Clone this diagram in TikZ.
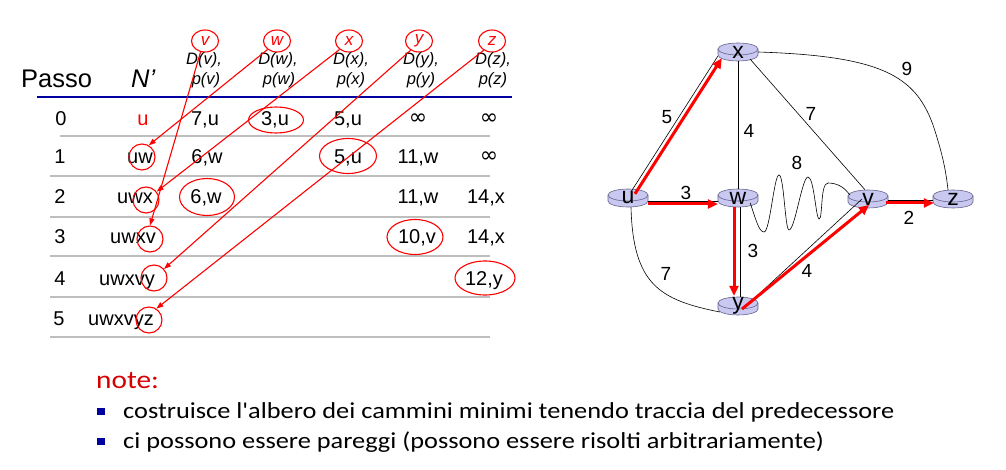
\documentclass[tikz,border=0pt]{standalone}
\usepackage{fontspec}
\setmainfont{Liberation Sans}
\newfontfamily\notefont[FakeStretch=1.15]{Carlito}
\newfontfamily\symfont{DejaVu Sans}
\newcommand\infsym{{\symfont\fontsize{22}{24}\selectfont ∞}}
\usetikzlibrary{arrows.meta,calc,shapes.geometric}
\definecolor{rfill}{RGB}{200,200,240}
\definecolor{rdraw}{RGB}{100,100,140}
\definecolor{navyline}{RGB}{0,0,160}
\definecolor{rulegray}{RGB}{190,190,190}
\definecolor{notered}{RGB}{215,0,0}
\newcommand\router[4]{%
  \fill[rfill] (#2-20,#3-3) -- (#2-20,#3+3) arc[start angle=180,end angle=360,x radius=20pt,y radius=6pt] -- (#2+20,#3-3) -- cycle;
  \draw[rdraw,line width=0.6pt] (#2-20,#3-3) -- (#2-20,#3+3) arc[start angle=180,end angle=360,x radius=20pt,y radius=6pt] -- (#2+20,#3-3);
  \filldraw[fill=rfill,draw=rdraw,line width=0.6pt] (#2,#3-3) ellipse[x radius=20pt,y radius=6pt];
  \node[rlabel] (#1) at (#2,#3) {\raisebox{-5pt}{#4}};
}
\tikzset{
  rlabel/.style={minimum width=40pt,minimum height=18pt,inner sep=0pt,font=\fontsize{23}{23}\selectfont},
  edge/.style={draw=black,line width=0.6pt},
  redge/.style={draw=red,line width=3pt,-{Triangle[length=10pt,width=9pt]}},
  wlabel/.style={font=\fontsize{19}{19}\selectfont,inner sep=0pt},
  cell/.style={font=\fontsize{20}{24}\selectfont,anchor=base,inner sep=0pt},
  hdr/.style={font=\fontsize{16.5}{18}\selectfont\itshape,anchor=base,inner sep=0pt},
  hcirc/.style={ellipse,draw=red,line width=1.1pt,minimum width=27pt,minimum height=22pt,inner sep=0pt,text=red,font=\fontsize{17}{18}\selectfont\itshape},
  ncirc/.style={circle,draw=red,line width=1.1pt,minimum size=26pt,inner sep=0pt},
  vell/.style={ellipse,draw=red,line width=1.1pt,inner sep=0pt},
  tarrow/.style={draw=red,line width=1.1pt,-{Triangle[length=7pt,width=5pt]}},
  trule/.style={draw=rulegray,line width=1.2pt},
}
\begin{document}
\begin{tikzpicture}[x=1pt,y=-1pt]
\useasboundingbox (0,0) rectangle (1006,470);
% ---------------- table ----------------
\node[cell,anchor=base west,font=\fontsize{25.5}{28}\selectfont] (passo) at (21,88) {Passo};
\node[cell,anchor=base west,font=\fontsize{25.5}{28}\selectfont\itshape] (nprime) at (131,88) {N'};
% header circles
\node[hcirc] (hv) at (205,41) {v};
\node[hcirc] (hw) at (277,41) {w};
\node[hcirc] (hx) at (349,41) {x};
\node[hcirc] (hy) at (419,41) {y};
\node[hcirc] (hz) at (492,41) {z};
% header texts
\node[hdr] (dv) at (204,65) {D(v),};
\node[hdr] (pv) at (206,85) {p(v)};
\node[hdr] (dw) at (278,65) {D(w),};
\node[hdr] (pw) at (279,85) {p(w)};
\node[hdr] (dx) at (351,65) {D(x),};
\node[hdr] (px) at (351,85) {p(x)};
\node[hdr] (dy) at (421,65) {D(y),};
\node[hdr] (py) at (421,85) {p(y)};
\node[hdr] (dz) at (493,65) {D(z),};
\node[hdr] (pz) at (493,85) {p(z)};
% blue line and rules
\draw[navyline,line width=2.5pt] (37,97) -- (512,97);
\draw[trule] (60,136) -- (490,136);
\draw[trule] (50,176) -- (490,176);
\draw[trule] (50,217) -- (490,217);
\draw[trule] (50,256) -- (490,256);
\draw[trule] (50,297) -- (490,297);
\draw[trule] (50,337) -- (490,337);
% row 0
\node[cell] (r0) at (61,126) {0};
\node[cell,text=red] (n0) at (143,126) {u};
\node[cell] (c0v) at (205,126) {7,u};
\node[cell] (c0w) at (275,126) {3,u};
\node[cell] (c0x) at (348,126) {5,u};
\node[cell] (c0y) at (418,125) {\infsym};
\node[cell] (c0z) at (489,125) {\infsym};
% row 1
\node[cell] (r1) at (60,164) {1};
\node[cell] (n1) at (140,164) {uw};
\node[cell] (c1v) at (207,164) {6,w};
\node[cell] (c1x) at (348,164) {5,u};
\node[cell] (c1y) at (418,164) {11,w};
\node[cell] (c1z) at (489,163) {\infsym};
% row 2
\node[cell] (r2) at (60,204) {2};
\node[cell] (n2) at (135,204) {uwx};
\node[cell] (c2v) at (206,204) {6,w};
\node[cell] (c2y) at (418,204) {11,w};
\node[cell] (c2z) at (486,204) {14,x};
% row 3
\node[cell] (r3) at (60,244) {3};
\node[cell] (n3) at (133,244) {uwxv};
\node[cell] (c3y) at (417,244) {10,v};
\node[cell] (c3z) at (486,244) {14,x};
% row 4
\node[cell] (r4) at (60,285) {4};
\node[cell] (n4) at (127,285) {uwxvy};
\node[cell] (c4z) at (484,285) {12,y};
% row 5
\node[cell] (r5) at (59,325) {5};
\node[cell] (n5) at (121,325) {uwxvyz};
% value ellipses
\node[vell,minimum width=55pt,minimum height=26pt] (e0w) at (276,120) {};
\node[vell,minimum width=57pt,minimum height=35pt] (e1x) at (348,156) {};
\node[vell,minimum width=55pt,minimum height=37pt] (e2v) at (207,197) {};
\node[vell,minimum width=56pt,minimum height=35pt] (e3y) at (415,237) {};
\node[vell,minimum width=60pt,minimum height=34pt] (e4z) at (485,278) {};
% N' circles
\node[ncirc] (k1) at (142,157) {};
\node[ncirc] (k2) at (146,200) {};
\node[ncirc] (k3) at (150,239) {};
\node[ncirc] (k4) at (154,278) {};
\node[ncirc] (k5) at (149,320) {};
% predecessor arrows
\draw[tarrow] (hw.222) -- (k1.60);
\draw[tarrow] (hx.222) -- (k2.38);
\draw[tarrow] (hv.248) -- (k3.90);
\draw[tarrow] (hy.228) -- (k4.42);
\draw[tarrow] (hz.228) -- (k5.57);
% ---------------- graph ----------------
\router{x}{738}{52}{x}
\router{u}{628}{198}{u}
\router{w}{738}{198}{w}
\router{v}{868}{199}{v}
\router{z}{953}{199}{z}
\router{y}{738}{306}{y}
% thin edges
\draw[edge] ($(u.north)+(3,3)$) -- ($(x.south west)+(0,-5)$);
\draw[edge] ($(u.east)+(0,3)$) -- ($(w.west)+(0,3)$);
\draw[edge] ($(u.south)+(3,0)$) .. controls (633,285) and (660,300) .. ($(y.west)+(2,6)$);
\draw[edge] (x.south) -- (w.north);
\draw[edge] ($(x.south east)+(-8,-2)$) -- ($(v.north)+(-3,0)$);
\draw[edge] (x.east) .. controls (880,56) and (915,75) .. (933,125) .. controls (943,155) and (946,172) .. ($(z.north)+(-5,0)$);
\draw[edge] ($(w.east)+(-8,5)$) .. controls (756,220) and (759,232) .. (764,232)
  .. controls (770,232) and (774,175) .. (779,175)
  .. controls (784,175) and (785,230) .. (789,230)
  .. controls (795,230) and (802,177) .. (808,177)
  .. controls (814,177) and (816,219) .. (819,219)
  .. controls (823,219) and (820,183) .. (828,183)
  .. controls (838,183) and (845,188) .. ($(v.west)+(2,-4)$);
\draw[edge] ($(w.south)+(2,0)$) -- ($(y.north)+(2,0)$);
\draw[edge] ($(y.center)+(8,0)$) -- ($(v.center)+(-6,0)$);
\draw[edge] ($(v.east)+(0,1)$) -- ($(z.west)+(0,1)$);
% red shortest path tree
\draw[redge] ($(u.north)+(7,5)$) -- ($(x.south west)+(4,-3)$);
\draw[redge] ($(u.east)+(0,6)$) -- ($(w.west)+(0,6)$);
\draw[redge] ($(w.south)+(-4,0)$) -- ($(y.north)+(-4,-1)$);
\draw[redge] ($(y.center)+(4,3)$) -- ($(v.center)+(1,6)$);
\draw[redge] ($(v.east)+(-2,4)$) -- ($(z.west)+(1,4)$);
% weights
\node[wlabel] (l5) at (667,117) {5};
\node[wlabel] (l4a) at (749,131) {4};
\node[wlabel] (l7a) at (811,114) {7};
\node[wlabel] (l9) at (907,69) {9};
\node[wlabel] (l8) at (797,163) {8};
\node[wlabel] (l3a) at (686,193) {3};
\node[wlabel] (l2) at (909,218) {2};
\node[wlabel] (l3b) at (753,251) {3};
\node[wlabel] (l7b) at (666,274) {7};
\node[wlabel] (l4b) at (807,271) {4};
% ---------------- notes ----------------
\node[anchor=base west,inner sep=0pt,text=notered,font=\notefont\fontsize{25.5}{28}\selectfont] (note) at (96,388) {note:};
\fill[navyline] (97,408) rectangle (105,415);
\fill[navyline] (97,438) rectangle (105,445);
\node[anchor=base west,inner sep=0pt,font=\notefont\fontsize{22.9}{26}\selectfont] (b1) at (123,418) {costruisce l'albero dei cammini minimi tenendo traccia del predecessore};
\node[anchor=base west,inner sep=0pt,font=\notefont\fontsize{22.9}{26}\selectfont] (b2) at (123,448) {ci possono essere pareggi (possono essere risolti arbitrariamente)};
\end{tikzpicture}
\end{document}
